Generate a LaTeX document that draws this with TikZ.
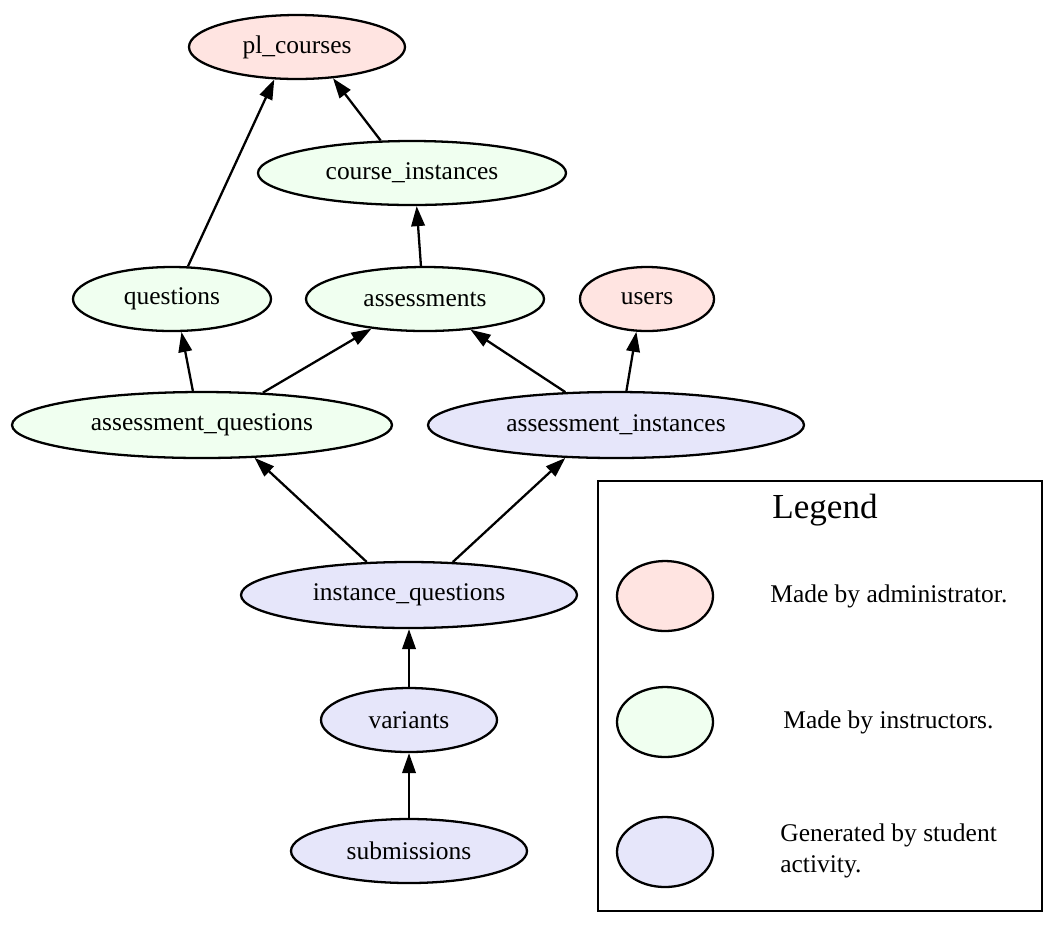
\documentclass[tikz,border=0pt]{standalone}
\usepackage{fontspec}
\setmainfont{Liberation Serif}
\usetikzlibrary{shapes.geometric,arrows.meta}
\definecolor{admin}{HTML}{FFE4E1}
\definecolor{instr}{HTML}{F0FFF0}
\definecolor{stud}{HTML}{E6E6FA}
\begin{document}
\begin{tikzpicture}[x=0.02cm,y=-0.02cm,
  every node/.style={font=\fontsize{14.5}{17.5}\selectfont},
  ent/.style={ellipse,draw=black,line width=1.3pt,inner sep=0pt},
  adnode/.style={ent,fill=admin},
  insnode/.style={ent,fill=instr},
  stnode/.style={ent,fill=stud},
  conn/.style={line width=1.3pt,-{Triangle[length=0.4cm,width=0.27cm]}}]
\useasboundingbox (0,0) rectangle (1044,938);
% nodes
\node[adnode,minimum width=216*0.02cm,minimum height=64*0.02cm] (pl) at (297,47) {pl\_courses};
\node[insnode,minimum width=308*0.02cm,minimum height=64*0.02cm] (ci) at (412,173) {course\_instances};
\node[insnode,minimum width=198*0.02cm,minimum height=64*0.02cm] (q) at (172,299) {questions};
\node[insnode,minimum width=238*0.02cm,minimum height=64*0.02cm] (a) at (425,299) {assessments};
\node[adnode,minimum width=134*0.02cm,minimum height=64*0.02cm] (u) at (647,299) {users};
\node[insnode,minimum width=380*0.02cm,minimum height=66*0.02cm] (aq) at (202,425) {assessment\_questions};
\node[stnode,minimum width=376*0.02cm,minimum height=66*0.02cm] (ai) at (616,425) {assessment\_instances};
\node[stnode,minimum width=336*0.02cm,minimum height=66*0.02cm] (iq) at (409,595) {instance\_questions};
\node[stnode,minimum width=176*0.02cm,minimum height=64*0.02cm] (v) at (409,720) {variants};
\node[stnode,minimum width=236*0.02cm,minimum height=64*0.02cm] (s) at (409,851) {submissions};
% edges
\draw[conn] (q.64) -- (pl.235);
\draw[conn] (ci.134) -- (pl.319);
\draw[conn] (a.97) -- (ci.-82);
\draw[conn] (aq.105) -- (q.-74);
\draw[conn] (aq.28) -- (a.209);
\draw[conn] (ai.147) -- (a.-34);
\draw[conn] (ai.73) -- (u.-108);
\draw[conn] (iq.142) -- (aq.-32);
\draw[conn] (iq.37) -- (ai.213);
\draw[conn] (v.north) -- (iq.south);
\draw[conn] (s.north) -- (v.south);
% legend
\node[draw=black,line width=1.3pt,minimum width=444*0.02cm,minimum height=430*0.02cm,inner sep=0pt] (box) at (820,696) {};
\node[font=\fontsize{20}{24}\selectfont] (lt) at (825,510) {Legend};
\node[adnode,minimum width=96*0.02cm,minimum height=70*0.02cm] (l1) at (665,596) {};
\node[insnode,minimum width=96*0.02cm,minimum height=70*0.02cm] (l2) at (665,722) {};
\node[stnode,minimum width=96*0.02cm,minimum height=70*0.02cm] (l3) at (665,852) {};
\node[anchor=west,inner sep=0pt] (t1) at (770,596) {Made by administrator.};
\node[anchor=west,inner sep=0pt] (t2) at (783,722) {Made by instructors.};
\node[anchor=west,inner sep=0pt,align=left] (t3) at (780,851) {Generated by student\\activity.};
\end{tikzpicture}
\end{document}
